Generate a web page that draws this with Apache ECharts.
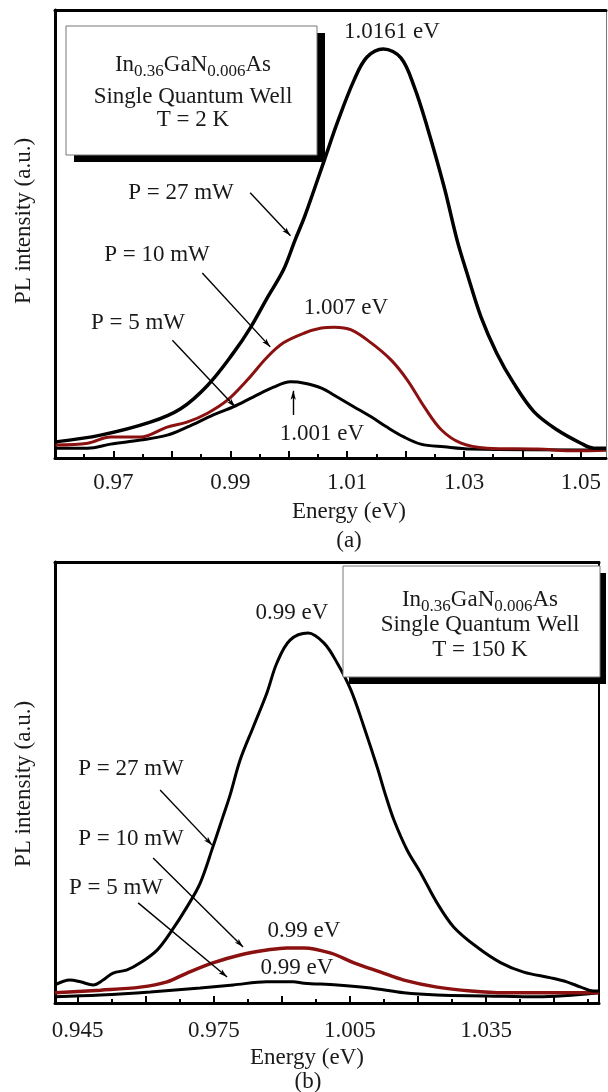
<!DOCTYPE html>
<html>
<head>
<meta charset="utf-8">
<script src="https://cdn.jsdelivr.net/npm/echarts@6/dist/echarts.min.js"></script>
<style>
html, body { margin: 0; padding: 0; background: #fff; }
#chart { width: 608px; height: 1092px; }
</style>
</head>
<body>
<div id="chart"></div>
<script>
// panel (a), T = 2 K
var aE27 = [0.9601, 0.9678, 0.9763, 0.9815, 0.9861, 0.9905, 0.9934, 0.9963, 0.9991, 1.0011, 1.0027, 1.0061, 1.0083, 1.0112, 1.0134, 1.0162, 1.0192, 1.0215, 1.0237, 1.0266, 1.0288, 1.0305, 1.0329, 1.0356, 1.0385, 1.0420, 1.0459, 1.0500, 1.0522, 1.0543];
var aI27 = [3.6, 5.1, 8.0, 11.0, 16.2, 23.4, 29.0, 35.7, 42.0, 48.7, 53.8, 66.5, 74.8, 84.4, 89.5, 91.3, 89.3, 82.8, 73.9, 60.5, 48.7, 41.3, 31.5, 23.4, 16.7, 10.3, 6.3, 3.3, 2.2, 2.2];
var aE10 = [0.9601, 0.9656, 0.9695, 0.9746, 0.9792, 0.9826, 0.9861, 0.9895, 0.9929, 0.9963, 0.9991, 1.0027, 1.0056, 1.0078, 1.0107, 1.0141, 1.0175, 1.0203, 1.0232, 1.0261, 1.0295, 1.0339, 1.0425, 1.0493, 1.0543];
var aI10 = [2.9, 3.3, 4.7, 4.7, 6.9, 8.0, 10.0, 12.9, 17.4, 22.5, 25.7, 27.9, 29.0, 29.2, 28.6, 25.7, 21.9, 17.4, 11.4, 6.3, 3.3, 2.2, 2.0, 1.6, 1.8];
var aE5 = [0.9601, 0.9656, 0.9695, 0.9746, 0.9792, 0.9826, 0.9871, 0.9905, 0.9939, 0.9974, 1.0003, 1.0027, 1.0056, 1.0083, 1.0112, 1.0141, 1.0168, 1.0197, 1.0226, 1.0266, 1.0312, 1.0543];
var aI5 = [2.2, 2.2, 3.1, 4.0, 5.1, 6.9, 9.6, 11.4, 13.6, 15.8, 17.0, 16.7, 15.6, 13.6, 11.4, 9.2, 6.9, 4.7, 3.1, 2.5, 2.0, 1.8];
var aMajorTicks = [0.97, 0.98, 0.99, 1.00, 1.01, 1.02, 1.03, 1.04, 1.05];
var aMinorTicks = [0.965, 0.975, 0.985, 0.995, 1.005, 1.015, 1.025, 1.035, 1.045];
var aTickLabels = [0.97, 0.99, 1.01, 1.03, 1.05];

// panel (b), T = 150 K
var bE27 = [0.9400, 0.9433, 0.9456, 0.9484, 0.9506, 0.9528, 0.9559, 0.9588, 0.9625, 0.9654, 0.9691, 0.9720, 0.9748, 0.9770, 0.9786, 0.9808, 0.9837, 0.9867, 0.9889, 0.9918, 0.9958, 0.9993, 1.0022, 1.0052, 1.0081, 1.0110, 1.0129, 1.0147, 1.0176, 1.0206, 1.0242, 1.0279, 1.0330, 1.0383, 1.0433, 1.0493, 1.0528, 1.0559, 1.0587, 1.0599];
var bI27 = [4.1, 5.2, 4.8, 4.1, 5.2, 6.8, 7.5, 9.1, 12.0, 15.9, 21.8, 27.2, 35.4, 42.2, 47.2, 55.1, 62.6, 70.3, 77.1, 82.3, 83.9, 81.6, 77.1, 71.0, 62.6, 53.5, 47.0, 41.5, 34.7, 29.5, 22.7, 17.2, 12.7, 9.1, 7.0, 5.7, 4.8, 3.6, 2.7, 2.7];
var bE10 = [0.9400, 0.9500, 0.9588, 0.9647, 0.9691, 0.9748, 0.9808, 0.9867, 0.9911, 0.9949, 1.0008, 1.0059, 1.0118, 1.0169, 1.0242, 1.0317, 1.0389, 1.0462, 1.0599];
var bI10 = [2.3, 2.9, 3.6, 4.8, 6.8, 9.1, 10.9, 12.0, 12.5, 12.5, 11.3, 9.1, 7.0, 5.2, 3.6, 2.7, 2.3, 2.3, 2.3];
var bE5 = [0.9400, 0.9500, 0.9610, 0.9720, 0.9793, 0.9867, 0.9925, 0.9949, 1.0022, 1.0096, 1.0169, 1.0242, 1.0352, 1.0462, 1.0599];
var bI5 = [1.4, 1.8, 2.5, 3.4, 4.1, 4.8, 4.8, 4.5, 4.1, 3.4, 2.3, 1.8, 1.6, 1.4, 2.3];
var bMajorTicks = [0.945, 0.96, 0.975, 0.99, 1.005, 1.02, 1.035, 1.05];
var bMinorTicks = [0.9525, 0.9675, 0.9825, 0.9975, 1.0125, 1.0275, 1.0425, 1.0575];
var bTickLabels = [0.945, 0.975, 1.005, 1.035];

var FONT = '"Liberation Serif", "Times New Roman", serif';
var INK = '#1a1a1a';
var RED = '#8b1111';

function pairs(xs, ys) {
    var out = [];
    for (var i = 0; i < xs.length; i++) out.push([xs[i], ys[i]]);
    return out;
}

function arrow(x1, y1, x2, y2) {
    return [{ coord: [x1, y1] }, { coord: [x2, y2] }];
}

function arrows(list) {
    return {
        silent: true,
        symbol: ['none', 'arrow'],
        symbolSize: [4, 9],
        label: { show: false },
        lineStyle: { color: '#000', width: 1.4, type: 'solid' },
        emphasis: { disabled: true },
        data: list
    };
}

function line(name, xi, yi, data, color, width, mark) {
    var s = {
        name: name,
        type: 'line',
        xAxisIndex: xi,
        yAxisIndex: yi,
        data: data,
        smooth: 0.35,
        showSymbol: false,
        lineStyle: { color: color, width: width },
        emphasis: { disabled: true }
    };
    if (mark) s.markLine = mark;
    return s;
}

function mainX(grid, min, max, ticks, labels, digits, margin) {
    return {
        gridIndex: grid, type: 'value', min: min, max: max, position: 'bottom',
        axisLine: { onZero: false, lineStyle: { color: '#000', width: 3 } },
        axisTick: { inside: true, length: 7, customValues: ticks, lineStyle: { color: '#000', width: 2 } },
        axisLabel: {
            customValues: labels, margin: margin, color: INK, fontFamily: FONT, fontSize: 23,
            formatter: function (v) { return v.toFixed(digits); }
        },
        splitLine: { show: false }
    };
}

function minorX(grid, min, max, ticks) {
    return {
        gridIndex: grid, type: 'value', min: min, max: max, position: 'bottom',
        axisLine: { show: false },
        axisTick: { inside: true, length: 4, customValues: ticks, lineStyle: { color: '#000', width: 2 } },
        axisLabel: { show: false },
        splitLine: { show: false }
    };
}

function topX(grid, min, max) {
    return {
        gridIndex: grid, type: 'value', min: min, max: max, position: 'top',
        axisLine: { onZero: false, lineStyle: { color: '#000', width: 3 } },
        axisTick: { show: false }, axisLabel: { show: false }, splitLine: { show: false }
    };
}

function sideY(grid, pos, width, color) {
    return {
        gridIndex: grid, type: 'value', min: 0, max: 100, position: pos,
        axisLine: { show: true, onZero: false, lineStyle: { color: color, width: width } },
        axisTick: { show: false }, axisLabel: { show: false }, splitLine: { show: false }
    };
}

function txt(x, y, s, extra) {
    var el = {
        type: 'text', x: x, y: y, z: 100, silent: true,
        style: { text: s, fill: INK, fontFamily: FONT, fontSize: 23, align: 'center', verticalAlign: 'middle' }
    };
    if (extra) for (var k in extra) el[k] = extra[k];
    return el;
}

function formula(x, y) {
    return {
        type: 'text', x: x, y: y, z: 101, silent: true,
        style: {
            text: '{n|In}{s|0.36}{n|GaN}{s|0.006}{n|As}',
            align: 'center', verticalAlign: 'middle', fill: INK,
            rich: {
                n: { fontFamily: FONT, fontSize: 23, lineHeight: 27, verticalAlign: 'top', fill: INK },
                s: { fontFamily: FONT, fontSize: 17, lineHeight: 27, verticalAlign: 'bottom', fill: INK }
            }
        }
    };
}

function box(x, y, w, h, dx, dy) {
    return [
        { type: 'rect', z: 98, silent: true, shape: { x: x + dx, y: y + dy, width: w, height: h }, style: { fill: '#000' } },
        { type: 'rect', z: 99, silent: true, shape: { x: x, y: y, width: w, height: h }, style: { fill: '#fff', stroke: '#777', lineWidth: 1 } }
    ];
}

var chart = echarts.init(document.getElementById('chart'));

var graphic = [].concat(
    box(66, 26, 251, 129, 8, 7),
    [formula(193, 67), txt(193, 97, 'Single Quantum Well'), txt(193, 120, 'T = 2 K')],
    box(343, 566, 257, 111, 6, 7),
    [formula(480, 602), txt(480, 625, 'Single Quantum Well'), txt(480, 650, 'T = 150 K')],
    [
        txt(392, 32, '1.0161 eV'),
        txt(346, 308, '1.007 eV'),
        txt(322, 434, '1.001 eV'),
        txt(181, 193, 'P = 27 mW'),
        txt(157, 255, 'P = 10 mW'),
        txt(138, 323, 'P = 5 mW'),
        txt(349, 512, 'Energy (eV)'),
        txt(349, 541, '(a)'),
        txt(24, 221, 'PL intensity (a.u.)', { rotation: Math.PI / 2 }),

        txt(292, 613, '0.99 eV'),
        txt(304, 931, '0.99 eV'),
        txt(297, 968, '0.99 eV'),
        txt(131, 769, 'P = 27 mW'),
        txt(131, 839, 'P = 10 mW'),
        txt(116, 888, 'P = 5 mW'),
        txt(307, 1058, 'Energy (eV)'),
        txt(308, 1082, '(b)'),
        txt(24, 784, 'PL intensity (a.u.)', { rotation: Math.PI / 2 })
    ]
);

chart.setOption({
    animation: false,
    backgroundColor: '#fff',
    grid: [
        { left: 55, top: 10, right: 2, height: 448 },
        { left: 55, top: 10, right: 2, height: 448 },
        { left: 55, top: 562, right: 9, height: 441 },
        { left: 55, top: 562, right: 9, height: 441 }
    ],
    xAxis: [
        mainX(0, 0.96, 1.0543, aMajorTicks, aTickLabels, 2, 13),
        minorX(1, 0.96, 1.0543, aMinorTicks),
        topX(1, 0.96, 1.0543),
        mainX(2, 0.94, 1.0599, bMajorTicks, bTickLabels, 3, 16),
        minorX(3, 0.94, 1.0599, bMinorTicks),
        topX(3, 0.94, 1.0599)
    ],
    yAxis: [
        sideY(0, 'left', 3, '#000'),
        sideY(0, 'right', 1, '#777'),
        { gridIndex: 1, type: 'value', min: 0, max: 100, show: false },
        sideY(2, 'left', 3, '#000'),
        sideY(2, 'right', 2, '#000'),
        { gridIndex: 3, type: 'value', min: 0, max: 100, show: false }
    ],
    series: [
        line('a 5 mW', 0, 0, pairs(aE5, aI5), '#000', 3, arrows([
            arrow(0.98009, 26.3, 0.99085, 11.4),
            arrow(1.00077, 9.6, 1.00077, 15.0)
        ])),
        line('a 10 mW', 0, 0, pairs(aE10, aI10), RED, 3, arrows([
            arrow(0.98521, 41.3, 0.99684, 24.8)
        ])),
        line('a 27 mW', 0, 0, pairs(aE27, aI27), '#000', 3.5, arrows([
            arrow(0.9934, 59.2, 1.0003, 49.6)
        ])),
        line('b 5 mW', 3, 3, pairs(bE5, bI5), '#000', 3, arrows([
            arrow(0.95833, 22.7, 0.97793, 5.9)
        ])),
        line('b 10 mW', 3, 3, pairs(bE10, bI10), RED, 3.5, arrows([
            arrow(0.96163, 32.9, 0.98145, 12.7)
        ])),
        line('b 27 mW', 3, 3, pairs(bE27, bI27), '#000', 3, arrows([
            arrow(0.96317, 48.3, 0.97463, 35.8)
        ]))
    ],
    graphic: graphic
});
</script>
</body>
</html>
